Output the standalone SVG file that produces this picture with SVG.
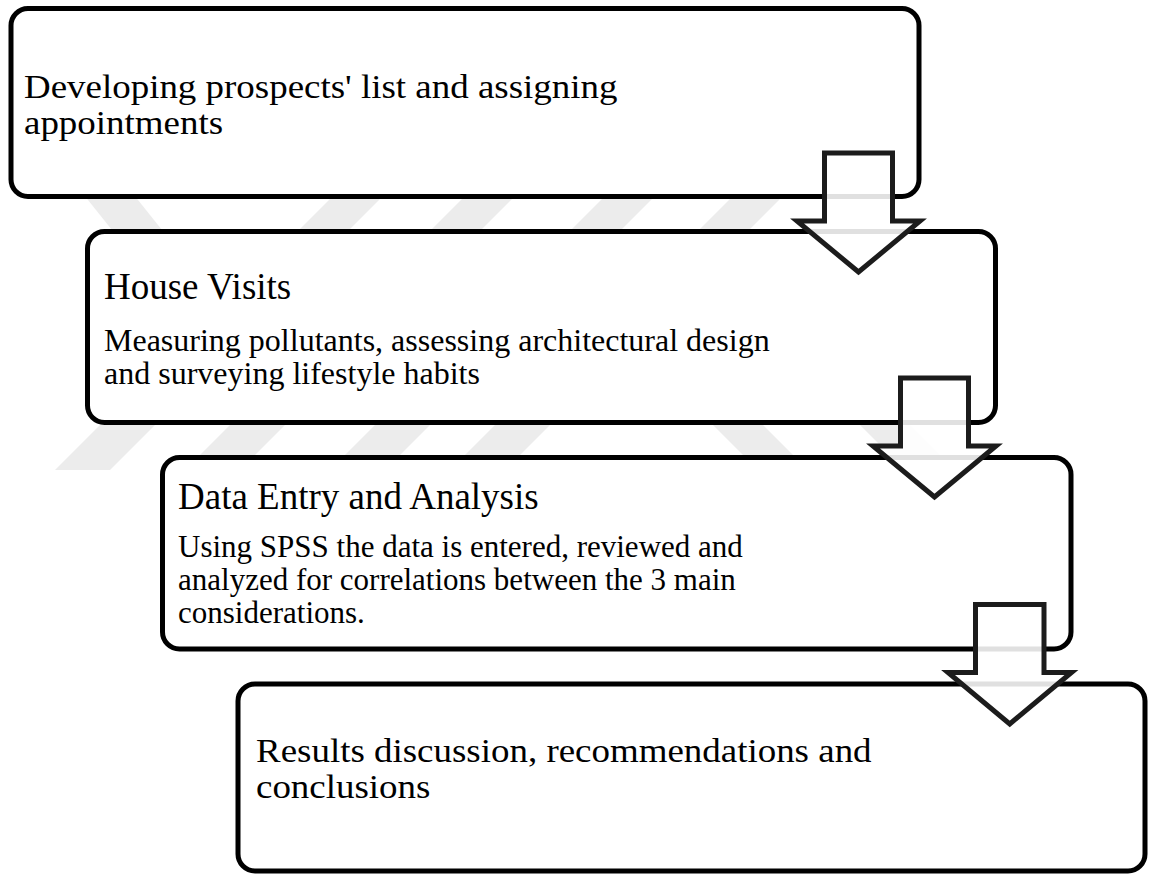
<svg xmlns="http://www.w3.org/2000/svg" width="1149" height="875" viewBox="0 0 1149 875">
<style>
.box{fill:#ffffff;stroke:#000000;stroke-width:5}
.arrow{fill:#ffffff;fill-opacity:0.88;stroke:#1c1c1c;stroke-width:5;stroke-linejoin:miter;stroke-miterlimit:10}
.t{font-family:"Liberation Serif","Times New Roman",serif;fill:#000000}
.h{font-size:37px}
.hw{font-size:33px}
.s{font-size:31px}
.s2{font-size:32px}
.wm{fill:#ececec}
</style>
<rect width="1149" height="875" fill="#ffffff"/>
<g id="watermark">
<polygon class="wm" points="80,190 130,190 170,240 120,240"/>
<polygon class="wm" points="339,190 389,190 339,240 289,240"/>
<polygon class="wm" points="471,190 521,190 471,240 421,240"/>
<polygon class="wm" points="611,190 661,190 611,240 561,240"/>
<polygon class="wm" points="739,190 789,190 739,240 689,240"/>
<polygon class="wm" points="110,415 165,415 110,470 55,470"/>
<polygon class="wm" points="240,415 295,415 240,470 185,470"/>
<polygon class="wm" points="385,415 440,415 385,470 330,470"/>
<polygon class="wm" points="505,415 560,415 505,470 450,470"/>
<polygon class="wm" points="703,415 753,415 803,465 753,465"/>
<polygon class="wm" points="850,415 900,415 950,465 900,465"/>
</g>
<g id="node1">
<rect class="box" x="11" y="8.5" width="908" height="188" rx="17"/>
<g transform="translate(24,0) scale(1.12,1)">
<text class="t hw" x="0" y="98">Developing prospects' list and assigning</text>
<text class="t hw" x="0" y="134">appointments</text>
</g>
</g>
<g id="node2">
<rect class="box" x="87.5" y="231.5" width="908" height="191" rx="17"/>
<text class="t h" x="104" y="299">House Visits</text>
<text class="t s2" x="104" y="351"><tspan x="104" y="351">Measuring pollutants, assessing architectural design</tspan><tspan x="104" y="384">and surveying lifestyle habits</tspan></text>
</g>
<g id="node3">
<rect class="box" x="162.5" y="457.5" width="908.5" height="191.5" rx="17"/>
<text class="t h" x="178" y="509">Data Entry and Analysis</text>
<text class="t s" x="178" y="557"><tspan x="178" y="557">Using SPSS the data is entered, reviewed and</tspan><tspan x="178" y="590">analyzed for correlations between the 3 main</tspan><tspan x="178" y="623">considerations.</tspan></text>
</g>
<g id="node4">
<rect class="box" x="238" y="684" width="907" height="187" rx="17"/>
<g transform="translate(256,0) scale(1.12,1)">
<text class="t hw" x="0" y="762">Results discussion, recommendations and</text>
<text class="t hw" x="0" y="798">conclusions</text>
</g>
</g>
<g id="connectors">
<polygon class="arrow" points="824.5,153 892.5,153 892.5,221 920,221 858.5,272 797,221 824.5,221"/>
<polygon class="arrow" points="900.5,378 968.5,378 968.5,446 996,446 934.5,497 873,446 900.5,446"/>
<polygon class="arrow" points="975.5,604.5 1044,604.5 1044,672.5 1071.5,672.5 1009.75,724 948,672.5 975.5,672.5"/>
</g>
</svg>
